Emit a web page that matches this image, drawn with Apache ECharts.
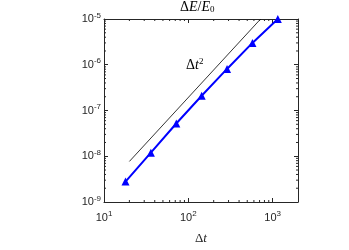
<!DOCTYPE html>
<html>
<head>
<meta charset="utf-8">
<script src="https://cdn.jsdelivr.net/npm/echarts@6/dist/echarts.min.js"></script>
<style>
  html, body { margin: 0; padding: 0; background: #fff; }
  #chart { width: 349px; height: 250px; }
</style>
</head>
<body>
<div id="chart"></div>
<script>
// time step vs relative energy error
var dt = [18, 36, 72, 144, 288, 576, 1152];
var energyErr = [2.8e-9, 1.2e-8, 5.2e-8, 2.1e-7, 8.1e-7, 3.0e-6, 1.0e-5];
// slope-2 guide line
var refDt = [20, 720];
var refErr = [7.7e-9, 1.0e-5];
var xRange = [10, 2000];
var yRange = [1e-9, 1e-5];

var axisColor = '#262626';
var sans = 'Liberation Sans';
var serif = 'Liberation Serif';

// minor ticks at 2..9 x 10^k, both axes
var minorTicks = [];
function addMinor(range, kind) {
  var lo = Math.floor(Math.log10(range[0]));
  var hi = Math.ceil(Math.log10(range[1]));
  for (var e = lo; e < hi; e++) {
    for (var m = 2; m <= 9; m++) {
      var v = m * Math.pow(10, e);
      if (v > range[0] && v < range[1]) {
        minorTicks.push(kind === 0 ? [v, 1e-7, 0] : [100, v, 1]);
      }
    }
  }
}
addMinor(xRange, 0);
addMinor(yRange, 1);

function powLabel(v) {
  var e = Math.round(Math.log10(v));
  if (Math.abs(v - Math.pow(10, e)) / v > 1e-6) return '';
  return '{b|10}{s|' + e + '}';
}

var labelRich = {
  b: { fontFamily: sans, fontSize: 11, color: axisColor },
  s: { fontFamily: sans, fontSize: 8, color: axisColor, verticalAlign: 'top', padding: [0, 0, 7, 0] }
};

function logAxis(pos, range, showLabel, isX) {
  return {
    type: 'log',
    logBase: 10,
    position: pos,
    min: range[0],
    max: range[1],
    axisLine: { show: true, onZero: false, lineStyle: { color: axisColor, width: 1 } },
    axisTick: { show: true, inside: true, length: 4, lineStyle: { color: axisColor } },
    splitLine: { show: false },
    axisLabel: {
      show: showLabel,
      formatter: powLabel,
      rich: labelRich,
      margin: isX ? 8 : 3,
      showMaxLabel: !isX,
      showMinLabel: true
    }
  };
}

var chart = echarts.init(document.getElementById('chart'));
var xBottom = logAxis('bottom', xRange, true, true);
xBottom.name = '{d|Δ}{i|t}';
xBottom.nameLocation = 'middle';
xBottom.nameGap = 30;
xBottom.nameTextStyle = {
  rich: {
    d: { fontFamily: serif, fontSize: 13, color: axisColor },
    i: { fontFamily: serif, fontSize: 13, fontStyle: 'italic', color: axisColor }
  }
};

chart.setOption({
  animation: false,
  grid: { left: 104, right: 51, top: 19, bottom: 37, containLabel: false },
  xAxis: [xBottom, logAxis('top', xRange, false, true)],
  yAxis: [logAxis('left', yRange, true, false), logAxis('right', yRange, false, false)],
  graphic: [
    {
      type: 'text', left: 180, top: 0,
      style: {
        text: '{d|Δ}{i|E}{d|/}{i|E}{sub|0}',
        rich: {
          d: { fontFamily: serif, fontSize: 14, fill: '#000' },
          i: { fontFamily: serif, fontSize: 14, fontStyle: 'italic', fill: '#000' },
          sub: { fontFamily: serif, fontSize: 9, fill: '#000', verticalAlign: 'bottom', padding: [6, 0, 0, 0] }
        }
      }
    },
    {
      type: 'text', left: 186, top: 57,
      style: {
        text: '{d|Δ}{i|t}{sup|2}',
        rich: {
          d: { fontFamily: serif, fontSize: 14, fill: '#000' },
          i: { fontFamily: serif, fontSize: 14, fontStyle: 'italic', fill: '#000' },
          sup: { fontFamily: serif, fontSize: 9, fill: '#000', verticalAlign: 'top', padding: [0, 0, 7, 0] }
        }
      }
    }
  ],
  series: [
    {
      type: 'line',
      data: refDt.map(function (x, i) { return [x, refErr[i]]; }),
      showSymbol: false,
      lineStyle: { color: '#000', width: 0.8 },
      z: 2
    },
    {
      type: 'line',
      data: dt.map(function (x, i) { return [x, energyErr[i]]; }),
      symbol: 'triangle',
      symbolSize: 8,
      itemStyle: { color: '#0000ff' },
      lineStyle: { color: '#0000ff', width: 2 },
      z: 3
    },
    {
      type: 'custom',
      silent: true,
      data: minorTicks,
      z: 5,
      renderItem: function (params, api) {
        var cs = params.coordSys;
        var kind = api.value(2);
        var len = 2;
        var st = { stroke: axisColor, lineWidth: 1 };
        if (kind === 0) {
          var x = api.coord([api.value(0), api.value(1)])[0];
          return {
            type: 'group', children: [
              { type: 'line', shape: { x1: x, y1: cs.y + cs.height, x2: x, y2: cs.y + cs.height - len }, style: st },
              { type: 'line', shape: { x1: x, y1: cs.y, x2: x, y2: cs.y + len }, style: st }
            ]
          };
        }
        var y = api.coord([api.value(0), api.value(1)])[1];
        return {
          type: 'group', children: [
            { type: 'line', shape: { x1: cs.x, y1: y, x2: cs.x + len, y2: y }, style: st },
            { type: 'line', shape: { x1: cs.x + cs.width, y1: y, x2: cs.x + cs.width - len, y2: y }, style: st }
          ]
        };
      }
    }
  ]
});
</script>
</body>
</html>
